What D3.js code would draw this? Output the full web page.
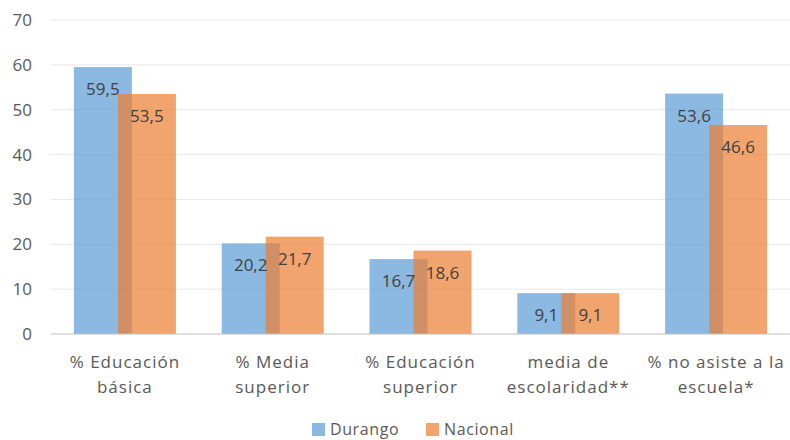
<!DOCTYPE html>
<html>
<head>
<meta charset="utf-8">
<script src="https://cdn.jsdelivr.net/npm/d3@7"></script>
<style>
  body { margin: 0; background: #fff; }
  svg { font-family: "Open Sans", sans-serif; }
</style>
</head>
<body>
<div id="vis"></div>
<script>
// data
const categories = [
  ["% Educación", "básica"],
  ["% Media", "superior"],
  ["% Educación", "superior"],
  ["media de", "escolaridad**"],
  ["% no asiste a la", "escuela*"]
];
const series = ["Durango", "Nacional"];
const durango = [59.5, 20.2, 16.7, 9.1, 53.6];
const nacional = [53.5, 21.7, 18.6, 9.1, 46.6];
const yTicks = [0, 10, 20, 30, 40, 50, 60, 70];

const width = 790, height = 440;
const margin = {top: 20, left: 51, right: 0, bottom: 106};

let svg = d3.select('#vis')
  .append('svg')
  .attr('width', width)
  .attr('height', height);

const color = d3.scaleOrdinal().domain(series).range(['#5b9bd5', '#ed7d31']);

const x = d3.scaleBand()
  .domain(d3.range(categories.length))
  .range([margin.left, width - margin.right]);

const y = d3.scaleLinear()
  .domain([0, 70])
  .range([height - margin.bottom, margin.top]);

// bar geometry inside each band
const barW = 58, barShift = 44;
const groupW = barW + barShift;

// gridlines
svg.append("g")
  .selectAll("line")
  .data(yTicks.slice(1))
  .join("line")
  .attr("x1", margin.left)
  .attr("x2", width)
  .attr("y1", d => y(d))
  .attr("y2", d => y(d))
  .attr("stroke", "#e8e8e8")
  .attr("stroke-width", 1);

// y tick labels
svg.append("g")
  .selectAll("text")
  .data(yTicks)
  .join("text")
  .attr("x", 32)
  .attr("y", d => y(d))
  .attr("dy", "0.35em")
  .attr("text-anchor", "end")
  .attr("font-size", 17)
  .attr("fill", "#595959")
  .text(d => d);

const rows = durango.map((d, i) => ({i, values: [durango[i], nacional[i]]}));

const groups = svg.append("g")
  .selectAll("g")
  .data(rows)
  .join("g")
  .attr("transform", d => `translate(${x(d.i) + (x.bandwidth() - groupW) / 2},0)`);

groups.selectAll("rect")
  .data(d => d.values.map((v, k) => ({key: series[k], k, v})))
  .join("rect")
  .attr("x", d => d.k * barShift)
  .attr("y", d => y(d.v))
  .attr("width", barW)
  .attr("height", d => y(0) - y(d.v))
  .attr("fill", d => color(d.key))
  .attr("fill-opacity", 0.7);

groups.selectAll("text")
  .data(d => d.values.map((v, k) => ({k, v})))
  .join("text")
  .attr("x", d => d.k * barShift + barW / 2)
  .attr("y", d => y(d.v) + 22)
  .attr("dy", "0.35em")
  .attr("text-anchor", "middle")
  .attr("font-size", 17)
  .attr("fill", "#404040")
  .text(d => d3.format(".1f")(d.v).replace(".", ","));

// baseline
svg.append("line")
  .attr("x1", margin.left)
  .attr("x2", width)
  .attr("y1", y(0))
  .attr("y2", y(0))
  .attr("stroke", "#bfbfbf");

// category labels
svg.append("g")
  .selectAll("text")
  .data(categories)
  .join("text")
  .attr("x", (d, i) => x(i) + x.bandwidth() / 2)
  .attr("y", y(0) + 34)
  .attr("text-anchor", "middle")
  .attr("font-size", 17)
  .attr("letter-spacing", 1)
  .attr("fill", "#595959")
  .selectAll("tspan")
  .data(d => d)
  .join("tspan")
  .attr("x", function () { return this.parentNode.getAttribute("x"); })
  .attr("dy", (d, j) => j === 0 ? 0 : 25)
  .text(d => d);

// legend (kept inside the frame)
const legend = svg.append("g")
  .attr("transform", "translate(312,429)")
  .selectAll("g")
  .data(series)
  .join("g")
  .attr("transform", (d, i) => `translate(${i * 114},0)`);

legend.append("rect")
  .attr("x", 0)
  .attr("y", -6)
  .attr("width", 13)
  .attr("height", 13)
  .attr("fill", color)
  .attr("fill-opacity", 0.7);

legend.append("text")
  .attr("x", 18)
  .attr("dy", "0.35em")
  .attr("font-size", 16)
  .attr("letter-spacing", 0.6)
  .attr("fill", "#595959")
  .text(d => d);
</script>
</body>
</html>
